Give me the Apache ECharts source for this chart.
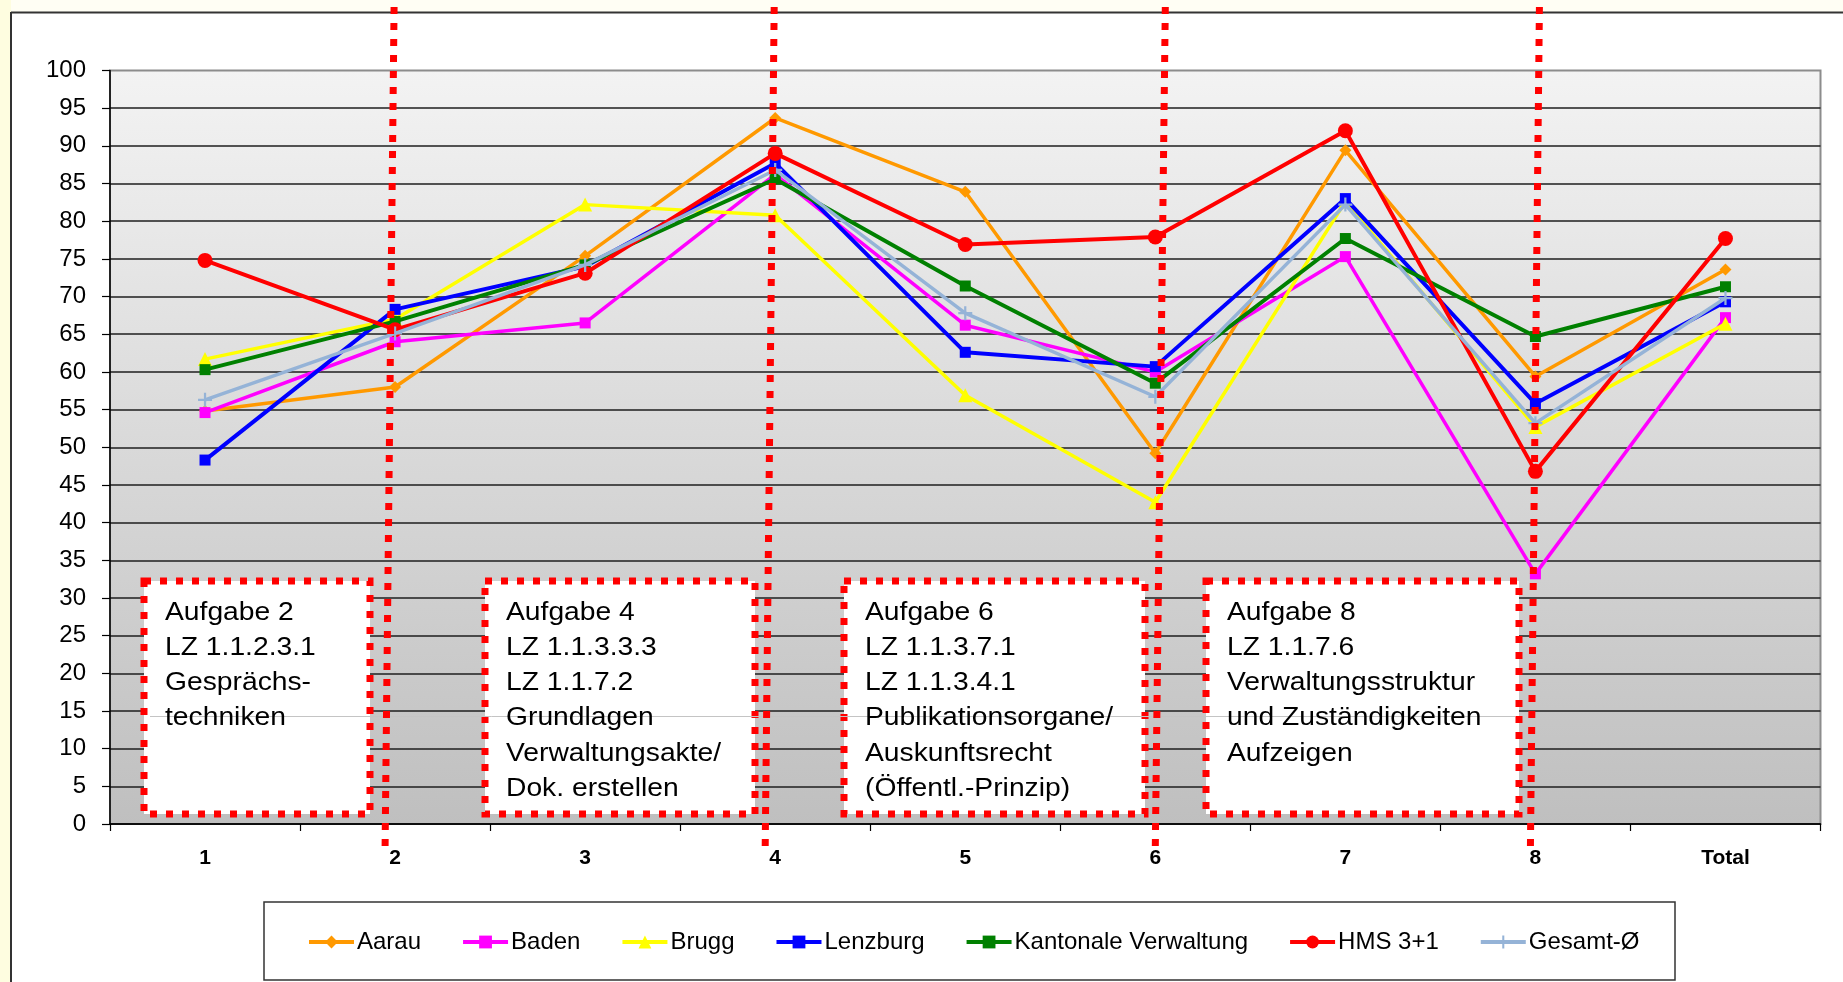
<!DOCTYPE html>
<html>
<head>
<meta charset="utf-8">
<script src="https://cdn.jsdelivr.net/npm/echarts@6/dist/echarts.min.js"></script>
<style>
html,body{margin:0;padding:0;background:#ffffff;}
#main{width:1843px;height:982px;}
</style>
</head>
<body>
<div id="main"></div>
<script>
// ---- data ----
const categories = ['1', '2', '3', '4', '5', '6', '7', '8', 'Total'];
const seriesNames = ['Aarau', 'Baden', 'Brugg', 'Lenzburg', 'Kantonale Verwaltung', 'HMS 3+1', 'Gesamt-Ø'];
const aarau     = [54.8, 58.0, 75.4, 93.7, 83.9, 49.2, 89.4, 59.4, 73.6];
const baden     = [54.6, 64.0, 66.5, 86.2, 66.2, 60.0, 75.3, 33.2, 67.2];
const brugg     = [61.7, 67.0, 82.2, 80.8, 56.9, 42.7, 82.6, 52.7, 66.4];
const lenzburg  = [48.3, 68.3, 74.0, 87.7, 62.6, 60.7, 83.0, 55.8, 69.3];
const kantonal  = [60.3, 66.7, 74.2, 85.6, 71.4, 58.5, 77.7, 64.7, 71.3];
const hms       = [74.8, 65.6, 73.1, 89.0, 76.9, 77.9, 92.0, 46.8, 77.7];
const gesamt    = [56.3, 65.1, 74.2, 86.8, 67.8, 56.7, 82.2, 53.2, 69.8];
const dividerCategories = ['2', '4', '6', '8'];
const boxTexts = [
  ['Aufgabe 2', 'LZ 1.1.2.3.1', 'Gesprächs-', 'techniken'],
  ['Aufgabe 4', 'LZ 1.1.3.3.3', 'LZ 1.1.7.2', 'Grundlagen', 'Verwaltungsakte/', 'Dok. erstellen'],
  ['Aufgabe 6', 'LZ 1.1.3.7.1', 'LZ 1.1.3.4.1', 'Publikationsorgane/', 'Auskunftsrecht', '(Öffentl.-Prinzip)'],
  ['Aufgabe 8', 'LZ 1.1.7.6', 'Verwaltungsstruktur', 'und Zuständigkeiten', 'Aufzeigen']
];

// ---- styles ----
const FONT = '"Liberation Sans", Arial, sans-serif';
const colors = ['#ff9900', '#ff00ff', '#ffff00', '#0000ff', '#008000', '#ff0000', '#95b3d7'];
const plusPath = 'path://M4.2,0 L5.8,0 L5.8,4.2 L10,4.2 L10,5.8 L5.8,5.8 L5.8,10 L4.2,10 L4.2,5.8 L0,5.8 L0,4.2 L4.2,4.2 Z';
const symbols = ['diamond', 'rect', 'triangle', 'rect', 'rect', 'circle', plusPath];
const symbolSizes = [12, 11, 14, 11, 11, 15, 14];
const lineWidths = [3.5, 3.5, 3.5, 4, 4, 4, 3.5];
const dataSets = [aarau, baden, brugg, lenzburg, kantonal, hms, gesamt];

const chart = echarts.init(document.getElementById('main'), null, {renderer: 'canvas'});

const series = seriesNames.map((name, i) => ({
  name: name,
  type: 'line',
  data: dataSets[i],
  symbol: symbols[i],
  symbolSize: symbolSizes[i],
  showAllSymbol: true,
  color: colors[i],
  lineStyle: {color: colors[i], width: lineWidths[i]},
  itemStyle: {color: colors[i], borderWidth: 0},
  emphasis: {disabled: true},
  animation: false,
  z: 2 + i * 0.01
}));

const option = {
  backgroundColor: '#ffffff',
  animation: false,
  grid: {
    left: 110, right: 22.5, top: 70.5, bottom: 158,
    show: true,
    borderColor: '#8c8c8c',
    borderWidth: 2,
    backgroundColor: {
      type: 'linear', x: 0, y: 0, x2: 0, y2: 1,
      colorStops: [{offset: 0, color: '#f3f3f3'}, {offset: 1, color: '#bfbfbf'}]
    }
  },
  legend: {
    left: 302, top: 925,
    itemWidth: 45, itemHeight: 16, itemGap: 40,
    lineStyle: {width: 4},
    textStyle: {fontSize: 24, color: '#000', fontFamily: FONT, padding: [0, 0, 0, -2]},
    data: seriesNames,
    selectedMode: false
  },
  xAxis: {
    type: 'category',
    data: categories,
    boundaryGap: true,
    axisLine: {show: true, lineStyle: {color: '#000', width: 1.5}},
    axisTick: {show: true, length: 7, lineStyle: {color: '#000', width: 1.2}},
    axisLabel: {fontSize: 21, fontWeight: 'bold', color: '#000', fontFamily: FONT, margin: 24, interval: 0},
    splitLine: {show: false}
  },
  yAxis: {
    type: 'value',
    min: 0, max: 100, interval: 5,
    axisLine: {show: true, lineStyle: {color: '#000', width: 1.5}},
    axisTick: {show: true, length: 8, lineStyle: {color: '#000', width: 1.2}},
    axisLabel: {fontSize: 24, color: '#000', fontFamily: FONT, margin: 24},
    splitLine: {show: true, showMaxLine: false, lineStyle: {color: '#1e1e1e', width: 1.5}}
  },
  series: series
};
chart.setOption(option);

// ---- annotations (frame, boxes, divider lines) ----
const boxRects = [
  [144, 581, 226, 233],
  [485, 581, 270, 233],
  [844, 581, 301, 233],
  [1206, 581, 313, 233]
];
const dividerOffsets = [[-1, -10], [-1, -10], [10, 0], [4, -5]];
const graphics = [];

// outer frame
graphics.push({type: 'rect', shape: {x: 0, y: 0, width: 11, height: 982}, style: {fill: '#fefde0'}, silent: true, z: 1});
graphics.push({type: 'rect', shape: {x: 11, y: 0, width: 1832, height: 12}, style: {fill: '#fffef4'}, silent: true, z: 1});
graphics.push({type: 'line', shape: {x1: 11, y1: 12, x2: 11, y2: 982}, style: {stroke: '#333', lineWidth: 2}, silent: true, z: 1});
graphics.push({type: 'line', shape: {x1: 11, y1: 12.5, x2: 1843, y2: 12.5}, style: {stroke: '#333', lineWidth: 2}, silent: true, z: 1});
// legend box
graphics.push({type: 'rect', shape: {x: 264, y: 902, width: 1411, height: 78}, style: {fill: null, stroke: '#333', lineWidth: 1.5}, silent: true, z: 1});

// boxes
boxRects.forEach((r, i) => {
  graphics.push({
    type: 'rect', shape: {x: r[0], y: r[1], width: r[2], height: r[3]},
    style: {fill: '#ffffff', stroke: '#ff0000', lineWidth: 7, lineDash: [7, 9]},
    silent: true, z: 100
  });
  graphics.push({
    type: 'text', x: r[0] + 21, y: 595, scaleX: 1.13, z: 103, silent: true,
    style: {text: boxTexts[i].join('\n'), fontSize: 25, fontFamily: FONT, lineHeight: 35.3, fill: '#000', verticalAlign: 'top', align: 'left'}
  });
});
// faint horizontal artefact line
graphics.push({type: 'line', shape: {x1: 150, y1: 716.5, x2: 1515, y2: 716.5}, style: {stroke: '#c4c4c4', lineWidth: 1}, silent: true, z: 102});

// dotted divider lines at categories
dividerCategories.forEach((c, i) => {
  const px = chart.convertToPixel({xAxisIndex: 0}, c);
  graphics.push({
    type: 'line',
    shape: {x1: px + dividerOffsets[i][0], y1: 7, x2: px + dividerOffsets[i][1], y2: 847},
    style: {stroke: '#ff0000', lineWidth: 7, lineDash: [7, 9]},
    silent: true, z: 110
  });
});

chart.setOption({graphic: {elements: graphics}});
</script>
</body>
</html>
